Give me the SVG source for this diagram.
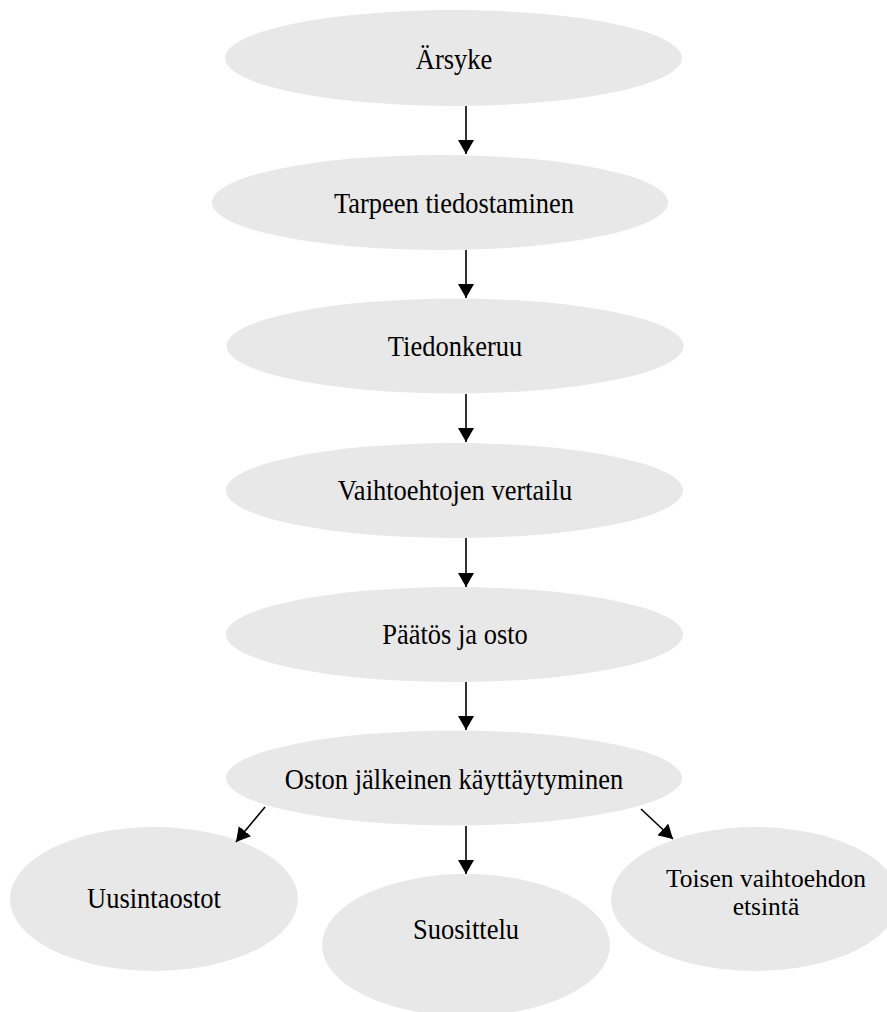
<svg xmlns="http://www.w3.org/2000/svg" width="887" height="1012" viewBox="0 0 887 1012">
<style>
.node{fill:#e8e8e8;stroke:none}
.lbl{font-family:"Liberation Serif","Times New Roman",serif;font-size:26.5px;fill:#000;text-anchor:middle}
.sm{font-size:25.5px}
.conn{stroke:#000;stroke-width:1.6;fill:none;marker-end:url(#ah)}
</style>
<defs>
<marker id="ah" viewBox="0 0 14 16" refX="14" refY="8" markerWidth="14" markerHeight="16" markerUnits="userSpaceOnUse" orient="auto">
<path d="M0,0 L14,8 L0,16 Z" fill="#000"/>
</marker>
</defs>
<rect width="887" height="1012" fill="#fff"/>
<g id="n1"><ellipse class="node" cx="453.5" cy="58" rx="228.5" ry="48"/><text class="lbl" transform="translate(454 68.5) scale(1 1.1)">Ärsyke</text></g>
<g id="n2"><ellipse class="node" cx="440" cy="202.5" rx="228" ry="47.5"/><text class="lbl" transform="translate(454 212.5) scale(1 1.1)">Tarpeen tiedostaminen</text></g>
<g id="n3"><ellipse class="node" cx="455" cy="346" rx="228.5" ry="47.5"/><text class="lbl" transform="translate(455 356) scale(1 1.1)">Tiedonkeruu</text></g>
<g id="n4"><ellipse class="node" cx="454.5" cy="490.5" rx="228.5" ry="47.5"/><text class="lbl" transform="translate(455 499.5) scale(1 1.1)">Vaihtoehtojen vertailu</text></g>
<g id="n5"><ellipse class="node" cx="454.5" cy="634.5" rx="228.5" ry="47.5"/><text class="lbl" transform="translate(455 644) scale(1 1.1)">Päätös ja osto</text></g>
<g id="n6"><ellipse class="node" cx="454" cy="778" rx="228" ry="47.5"/><text class="lbl" transform="translate(454 789) scale(1 1.1)">Oston jälkeinen käyttäytyminen</text></g>
<g id="n7"><ellipse class="node" cx="154" cy="899" rx="144" ry="72"/><text class="lbl" transform="translate(154 908) scale(1 1.1)">Uusintaostot</text></g>
<g id="n8"><ellipse class="node" cx="466" cy="945" rx="144" ry="71"/><text class="lbl" transform="translate(466 939) scale(1 1.1)">Suosittelu</text></g>
<g id="n9"><ellipse class="node" cx="755" cy="899" rx="144" ry="72"/><text class="lbl sm" x="766" y="886.5"><tspan x="766" y="886.5">Toisen vaihtoehdon</tspan><tspan x="766" y="915">etsintä</tspan></text></g>
<g id="connectors">
<line class="conn" x1="466" y1="106" x2="466" y2="154"/>
<line class="conn" x1="466" y1="250" x2="466" y2="298"/>
<line class="conn" x1="466" y1="394" x2="466" y2="442"/>
<line class="conn" x1="466" y1="538" x2="466" y2="587"/>
<line class="conn" x1="466" y1="682" x2="466" y2="730"/>
<line class="conn" x1="265" y1="807" x2="236" y2="842"/>
<line class="conn" x1="466" y1="826" x2="466" y2="874"/>
<line class="conn" x1="641" y1="809" x2="673" y2="839"/>
</g>
</svg>
